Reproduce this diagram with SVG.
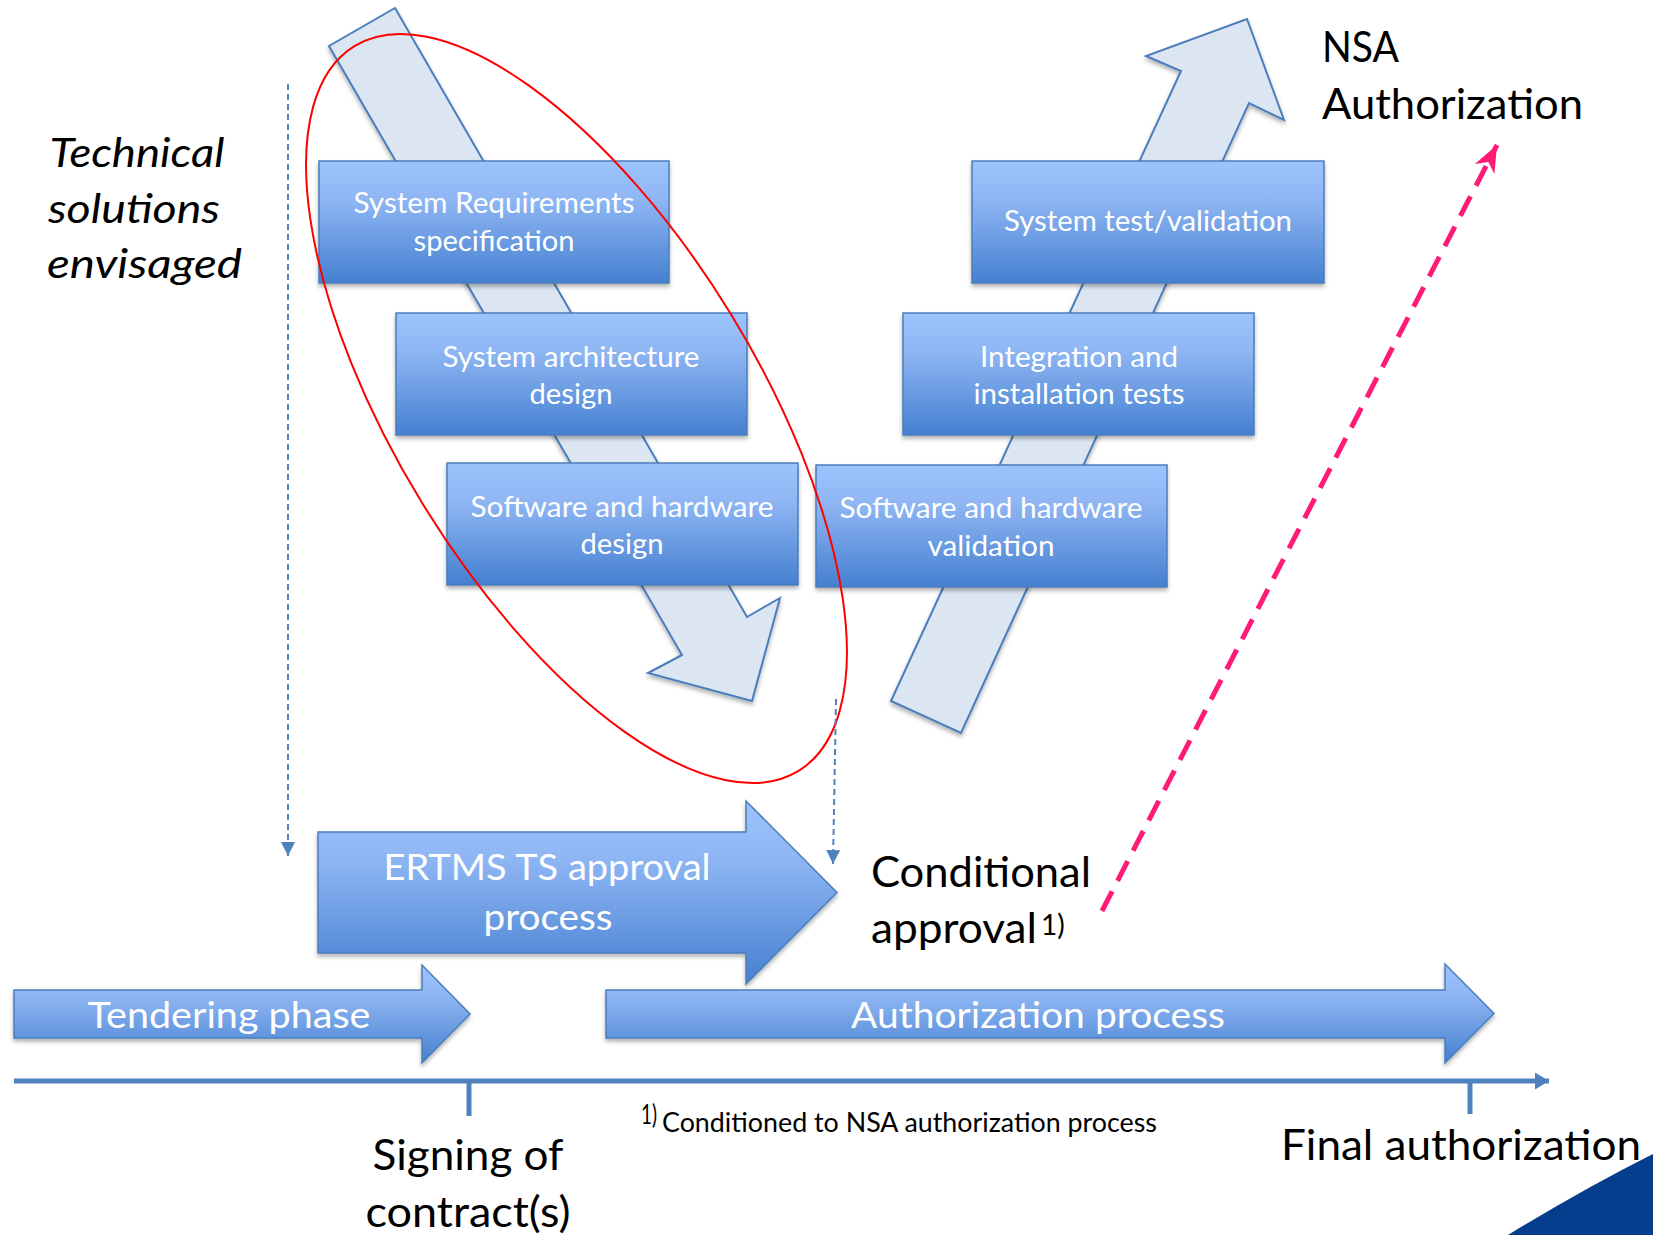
<svg xmlns="http://www.w3.org/2000/svg" width="1653" height="1235" viewBox="0 0 1653 1235">
<defs>
<style>
.box{fill:url(#gBox);stroke:#4a7ebb;stroke-width:1.5;filter:url(#sh)}
.big{fill:url(#gBox);stroke:#4a7ebb;stroke-width:1.5;filter:url(#sh)}
.vshape{fill:#dce6f2;stroke:#4a7ebb;stroke-width:2;filter:url(#sh)}
.bt{font-family:Lato,"Open Sans",sans-serif;font-size:28px;fill:#ffffff;text-anchor:middle}
.at{font-family:Lato,"Open Sans",sans-serif;font-size:37px;fill:#ffffff;text-anchor:middle}
.lb{font-family:Lato,"Open Sans",sans-serif;font-size:42px;fill:#000000}
.it{font-family:Lato,"Open Sans",sans-serif;font-size:40px;font-style:italic;fill:#000000}
.fn{font-family:Lato,"Open Sans",sans-serif;font-size:26px;fill:#000000}
.dash{fill:none;stroke:#4f81bd;stroke-width:2;stroke-dasharray:6 4}
</style>
<linearGradient id="gBox" x1="0" y1="0" x2="0" y2="1">
<stop offset="0" stop-color="#9dc3fd"/>
<stop offset="0.3" stop-color="#90b7f4"/>
<stop offset="1" stop-color="#4580d0"/>
</linearGradient>
<filter id="sh" x="-10%" y="-10%" width="130%" height="130%">
<feDropShadow dx="0" dy="3" stdDeviation="2" flood-color="#000000" flood-opacity="0.3"/>
</filter>
<marker id="mBlue" markerUnits="userSpaceOnUse" overflow="visible" orient="auto" refX="0" refY="0">
<path d="M0,0 L-14,-7 L-14,7 Z" fill="#4f81bd"/>
</marker>
<marker id="mAxis" markerUnits="userSpaceOnUse" overflow="visible" orient="auto" refX="0" refY="0">
<path d="M0,0 L-14,-8.5 L-14,8.5 Z" fill="#4f81bd"/>
</marker>
<marker id="mPink" markerUnits="userSpaceOnUse" overflow="visible" orient="auto" refX="0" refY="0">
<path d="M0,0 L-27,-11 L-19,0 L-27,11 Z" fill="#ff1a75"/>
</marker>
</defs>
<rect width="1653" height="1235" fill="#ffffff"/>

<g id="v-arrows">
<polygon id="down-arrow" class="vshape" points="395,8 747,617 780,598 752,701 648,673 682,655 329,46"/>
<polygon id="up-arrow" class="vshape" points="891,701 1181,71 1146,56 1247,19 1284,120 1249,103 961,733"/>
</g>

<g id="node-sysreq">
<rect class="box" x="319" y="161" width="350" height="122"/>
<text class="bt" x="494" y="213" textLength="281" lengthAdjust="spacingAndGlyphs">System Requirements</text>
<text class="bt" x="494" y="251" textLength="161" lengthAdjust="spacingAndGlyphs">specification</text>
</g>
<g id="node-sysarch">
<rect class="box" x="396" y="313" width="351" height="122"/>
<text class="bt" x="571" y="367" textLength="257" lengthAdjust="spacingAndGlyphs">System architecture</text>
<text class="bt" x="571" y="404" textLength="83" lengthAdjust="spacingAndGlyphs">design</text>
</g>
<g id="node-swhwdesign">
<rect class="box" x="447" y="463" width="351" height="122"/>
<text class="bt" x="622" y="517" textLength="303" lengthAdjust="spacingAndGlyphs">Software and hardware</text>
<text class="bt" x="622" y="554" textLength="83" lengthAdjust="spacingAndGlyphs">design</text>
</g>
<g id="node-systest">
<rect class="box" x="972" y="161" width="352" height="122"/>
<text class="bt" x="1148" y="231" textLength="288" lengthAdjust="spacingAndGlyphs">System test/validation</text>
</g>
<g id="node-integration">
<rect class="box" x="903" y="313" width="351" height="122"/>
<text class="bt" x="1079" y="367" textLength="198" lengthAdjust="spacingAndGlyphs">Integration and</text>
<text class="bt" x="1079" y="404" textLength="211" lengthAdjust="spacingAndGlyphs">installation tests</text>
</g>
<g id="node-swhwvalid">
<rect class="box" x="816" y="465" width="351" height="122"/>
<text class="bt" x="991" y="518" textLength="303" lengthAdjust="spacingAndGlyphs">Software and hardware</text>
<text class="bt" x="991" y="556" textLength="127" lengthAdjust="spacingAndGlyphs">validation</text>
</g>

<g id="ellipse-highlight">
<ellipse cx="576.5" cy="408.5" rx="425" ry="181" transform="rotate(58.5 576.5 408.5)" fill="none" stroke="#ff0000" stroke-width="2"/>
</g>

<g id="node-ertms">
<polygon class="big" points="318,832 746,832 746,801 837,892.5 746,984 746,953 318,953"/>
<text class="at" x="547" y="880" textLength="327" lengthAdjust="spacingAndGlyphs">ERTMS TS approval</text>
<text class="at" x="548" y="930" textLength="129" lengthAdjust="spacingAndGlyphs">process</text>
</g>
<g id="node-tendering">
<polygon class="big" points="14,990 422,990 422,965 470,1014 422,1063 422,1038 14,1038"/>
<text class="at" x="229" y="1028" textLength="283" lengthAdjust="spacingAndGlyphs">Tendering phase</text>
</g>
<g id="node-authproc">
<polygon class="big" points="606,990 1445,990 1445,964 1494,1013.5 1445,1063 1445,1038 606,1038"/>
<text class="at" x="1038" y="1028" textLength="374" lengthAdjust="spacingAndGlyphs">Authorization process</text>
</g>

<g id="connectors">
<line class="dash" x1="288" y1="84" x2="288" y2="856" marker-end="url(#mBlue)"/>
<line class="dash" x1="836" y1="699" x2="833" y2="864" marker-end="url(#mBlue)"/>
<line x1="1102" y1="911" x2="1497" y2="145" stroke="#ff1a75" stroke-width="5" stroke-dasharray="22 12" marker-end="url(#mPink)"/>
</g>

<g id="timeline">
<line x1="14" y1="1081" x2="1549" y2="1081" stroke="#4f81bd" stroke-width="5" marker-end="url(#mAxis)"/>
<line x1="469" y1="1081" x2="469" y2="1116" stroke="#4f81bd" stroke-width="5"/>
<line x1="1470" y1="1081" x2="1470" y2="1114" stroke="#4f81bd" stroke-width="5"/>
</g>

<g id="label-technical">
<text class="it" x="49.5" y="167" textLength="175" lengthAdjust="spacingAndGlyphs">Technical</text>
<text class="it" x="48" y="223" textLength="172" lengthAdjust="spacingAndGlyphs">solutions</text>
<text class="it" x="47" y="278" textLength="195" lengthAdjust="spacingAndGlyphs">envisaged</text>
</g>
<g id="label-nsa">
<text class="lb" x="1322" y="62" textLength="77" lengthAdjust="spacingAndGlyphs">NSA</text>
<text class="lb" x="1322" y="119" textLength="261" lengthAdjust="spacingAndGlyphs">Authorization</text>
</g>
<g id="label-conditional">
<text class="lb" x="871" y="887" textLength="220" lengthAdjust="spacingAndGlyphs">Conditional</text>
<text class="lb" x="871" y="943"><tspan textLength="166" lengthAdjust="spacingAndGlyphs">approval</tspan><tspan x="1041" y="935" font-size="28">1)</tspan></text>
</g>
<g id="label-signing">
<text class="lb" x="468" y="1170" text-anchor="middle" textLength="191" lengthAdjust="spacingAndGlyphs">Signing of</text>
<text class="lb" x="468" y="1227" text-anchor="middle" textLength="205" lengthAdjust="spacingAndGlyphs">contract(s)</text>
</g>
<g id="label-final">
<text class="lb" x="1281" y="1160" textLength="360" lengthAdjust="spacingAndGlyphs">Final authorization</text>
</g>
<g id="footnote">
<text class="fn" x="641" y="1124" font-size="17" textLength="16" lengthAdjust="spacingAndGlyphs">1)</text>
<text class="fn" x="662" y="1132" textLength="495" lengthAdjust="spacingAndGlyphs">Conditioned to NSA authorization process</text>
</g>

<path id="corner" d="M1508,1235 Q1585,1188 1653,1154 L1653,1235 Z" fill="#063d8c"/>
</svg>
